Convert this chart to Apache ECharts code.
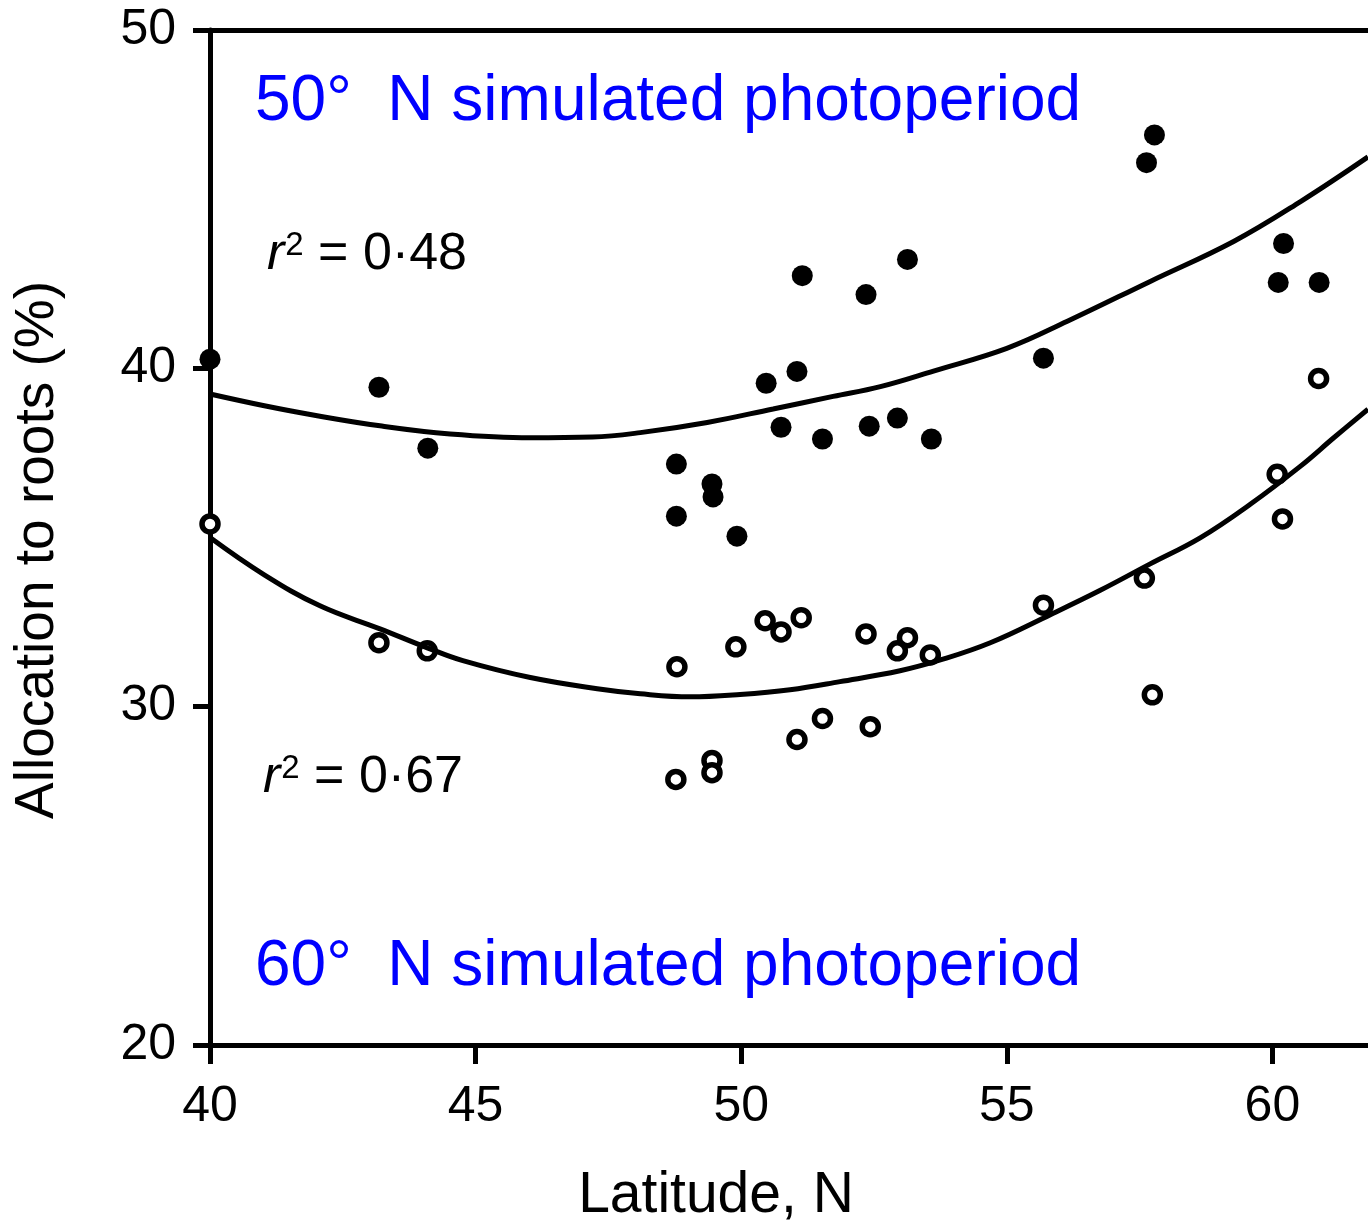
<!DOCTYPE html>
<html>
<head>
<meta charset="utf-8">
<style>
  html, body { margin: 0; padding: 0; background: #fff; }
  #chart { width: 1368px; height: 1224px; }
</style>
<script src="https://cdn.jsdelivr.net/npm/echarts@6/dist/echarts.min.js"></script>
</head>
<body>
<div id="chart"></div>
<script>
// tick values
const xTicks = [40, 45, 50, 55, 60]
const yTicks = [20, 30, 40, 50]

// 50 N photoperiod (filled dots)
const filledLat = [40.0, 43.18, 44.1, 48.78, 48.78, 49.45, 49.47, 49.92, 50.47, 51.05, 51.15, 50.75,
  51.53, 52.35, 52.41, 52.94, 53.13, 53.58, 55.69, 57.63, 57.78, 60.21, 60.11, 60.88]
const filledAlloc = [40.27, 39.44, 37.64, 37.17, 35.63, 36.58, 36.2, 35.04, 39.56, 39.91, 42.74, 38.26,
  37.91, 42.18, 38.29, 38.53, 43.22, 37.91, 40.3, 46.08, 46.9, 43.69, 42.54, 42.54]

// 60 N photoperiod (open circles)
const openLat = [40.0, 43.18, 44.09, 48.79, 48.77, 49.45, 49.45, 49.9, 50.45, 50.75, 51.13, 51.05,
  51.53, 52.35, 52.43, 52.94, 53.13, 53.56, 55.69, 57.59, 57.74, 60.09, 60.19, 60.87]
const openAlloc = [35.4, 31.89, 31.65, 31.18, 27.85, 28.41, 28.05, 31.77, 32.54, 32.21, 32.63, 29.03,
  29.65, 32.15, 29.41, 31.65, 32.04, 31.53, 33.0, 33.8, 30.35, 36.87, 35.55, 39.7]

// fitted curves
const upperFitLat = [40.0, 41.0, 41.94, 43.2, 44.52, 46.03, 47.2, 48.1, 49.36, 50.6, 51.73, 52.62,
  53.62, 55.0, 56.14, 57.7, 59.27, 60.53, 61.8]
const upperFitAlloc = [39.24, 38.9, 38.62, 38.3, 38.06, 37.95, 37.97, 38.1, 38.4, 38.8, 39.17, 39.46,
  39.92, 40.59, 41.39, 42.57, 43.75, 44.93, 46.25]
const lowerFitLat = [40.0, 41.0, 42.07, 43.2, 44.09, 44.76, 46.03, 47.29, 48.1, 49.04, 49.98, 50.92,
  51.86, 52.99, 53.75, 54.69, 55.82, 56.76, 57.7, 58.64, 59.59, 60.53, 61.15, 61.8]
const lowerFitAlloc = [35.0, 33.92, 32.98, 32.3, 31.74, 31.36, 30.86, 30.53, 30.38, 30.29, 30.36, 30.5,
  30.74, 31.06, 31.38, 31.89, 32.72, 33.44, 34.22, 34.99, 35.99, 37.11, 37.94, 38.79]

const zip = (a, b) => a.map((v, i) => [v, b[i]])

const font = "'Liberation Sans', Arial, sans-serif"
const ink = '#000'

const chart = echarts.init(document.getElementById('chart'), null, { renderer: 'canvas' })

const axisText = { color: ink, fontSize: 50, fontFamily: font }

function rSquared(value) {
  return {
    text: '{i|r}{s|2}{n| = ' + value + '}',
    rich: {
      i: { fontSize: 52, fontStyle: 'italic', fontFamily: font, fill: ink },
      s: { fontSize: 33, fontFamily: font, fill: ink, verticalAlign: 'top', padding: [0, 0, 0, 1] },
      n: { fontSize: 52, fontFamily: font, fill: ink }
    }
  }
}

chart.setOption({
  animation: false,
  backgroundColor: '#fff',
  grid: { left: 210, right: 0, top: 30, bottom: 179 },
  xAxis: [{
    type: 'value', min: 40, max: 61.8,
    axisLine: { lineStyle: { color: ink, width: 5 } },
    axisTick: { show: true, inside: false, length: 19, lineStyle: { color: ink, width: 5 }, customValues: xTicks },
    axisLabel: { ...axisText, margin: 37, customValues: xTicks },
    splitLine: { show: false }
  }, {
    type: 'value', min: 40, max: 61.8, position: 'top',
    axisLine: { lineStyle: { color: ink, width: 5 } },
    axisTick: { show: false },
    axisLabel: { show: false },
    splitLine: { show: false }
  }],
  yAxis: {
    type: 'value', min: 20, max: 50,
    axisLine: { lineStyle: { color: ink, width: 5 } },
    axisTick: { show: true, inside: false, length: 17, lineStyle: { color: ink, width: 5 }, customValues: yTicks },
    axisLabel: { ...axisText, margin: 34, customValues: yTicks },
    splitLine: { show: false }
  },
  series: [{
    type: 'line', data: zip(upperFitLat, upperFitAlloc), smooth: 0.4, showSymbol: false,
    lineStyle: { color: ink, width: 5, opacity: 1 }
  }, {
    type: 'line', data: zip(lowerFitLat, lowerFitAlloc), smooth: 0.4, showSymbol: false,
    lineStyle: { color: ink, width: 5, opacity: 1 }
  }, {
    type: 'scatter', data: zip(filledLat, filledAlloc), symbol: 'circle', symbolSize: 21,
    itemStyle: { color: ink, opacity: 1 }
  }, {
    type: 'scatter', data: zip(openLat, openAlloc), symbol: 'circle', symbolSize: 16,
    itemStyle: { color: '#fff', borderColor: ink, borderWidth: 5.5, opacity: 1 }
  }],
  graphic: [{
    type: 'text', left: 255, top: 102 - 32,
    style: { text: '50°  N simulated photoperiod', fill: '#0000ff', font: `64px ${font}` }
  }, {
    type: 'text', left: 255, top: 967 - 32,
    style: { text: '60°  N simulated photoperiod', fill: '#0000ff', font: `64px ${font}` }
  }, {
    type: 'text', left: 267, top: 255 - 26,
    style: rSquared('0·48')
  }, {
    type: 'text', left: 263, top: 778 - 26,
    style: rSquared('0·67')
  }, {
    type: 'text', x: 716, y: 1196,
    style: { text: 'Latitude, N', fill: ink, font: `57px ${font}`, align: 'center', verticalAlign: 'middle' }
  }, {
    type: 'text', x: 38, y: 550, rotation: Math.PI / 2,
    style: { text: 'Allocation to roots (%)', fill: ink, font: `55px ${font}`, align: 'center', verticalAlign: 'middle' }
  }]
})
</script>
</body>
</html>
